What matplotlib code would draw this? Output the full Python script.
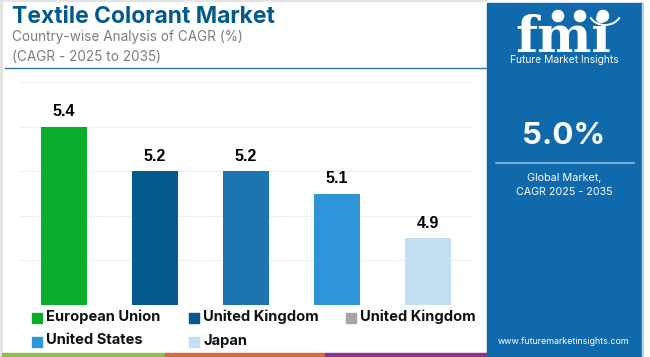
import matplotlib
matplotlib.use("Agg")
import matplotlib.pyplot as plt
from matplotlib.patches import Rectangle, Circle, Arc

W, H = 650, 357

# данные
countries = ["European Union", "United Kingdom", "United Kingdom", "United States", "Japan"]
cagr = [5.4, 5.2, 5.2, 5.1, 4.9]
bar_colors = ["#0bab2e", "#045a8f", "#1b75ae", "#3095d8", "#c2e0f2"]
legend_names = ["European Union", "United Kingdom", "United Kingdom", "United States", "Japan"]
legend_colors = ["#0bab2e", "#045a8f", "#a6a6a6", "#3095d8", "#c2e0f2"]
y_ticks = [4.6, 4.8, 5.0, 5.2, 5.4, 5.6]

plt.rcParams["font.family"] = ["Inter", "Open Sans", "DejaVu Sans"]

fig = plt.figure(figsize=(W / 100, H / 100), dpi=100, facecolor="white")

# фон и декор в координатах пикселей
bg = fig.add_axes([0, 0, 1, 1])
bg.set_xlim(0, W)
bg.set_ylim(H, 0)
bg.axis("off")

bg.add_patch(Rectangle((0, 0), 2, H, color="#e4e4e4"))
bg.add_patch(Rectangle((0, 0), 487, 1, color="#e4e4e4"))
bg.plot([5, 487], [68, 68], color="#2f78a8", lw=1.0)

# нижняя полоса
bg.add_patch(Rectangle((2, 353), 163, 4, color="#8fbf4f"))
bg.add_patch(Rectangle((165, 353), 160, 4, color="#e0683a"))
bg.add_patch(Rectangle((325, 353), 162, 4, color="#8e3191"))

# синяя панель
bg.add_patch(Rectangle((487, 3), 155, 354, color="#0f69ab"))
bg.add_patch(Rectangle((642, 3), 1, 354, color="#b9d3e6"))

# логотип
bg.text(563, 38, "fmi", color="white", fontsize=37, fontweight="bold",
        family=["DejaVu Serif"], ha="center", va="center")
for yy in range(19, 53, 4):
    bg.add_patch(Rectangle((505, yy), 118, 1.0, color="#0f69ab"))
for cx in [558, 580, 603]:
    bg.add_patch(Circle((cx, 16), 7, facecolor="white", edgecolor="#0f69ab", lw=1))
bg.add_patch(Arc((605, 12), 32, 26, theta1=20, theta2=160, color="white", lw=1.4))
bg.text(564, 60, "Future Market Insights", color="white", fontsize=7.4, ha="center", va="center")

# значение справа
bg.text(564, 136, "5.0%", color="white", fontsize=22.5, fontweight="bold", ha="center", va="center")
bg.plot([496, 634], [163, 163], color="#8dbfe0", lw=1.2)
bg.text(564, 178, "Global Market,", color="white", fontsize=7.8, ha="center", va="center")
bg.text(564, 192, "CAGR 2025 - 2035", color="white", fontsize=7.7, ha="center", va="center")
bg.text(564, 341, "www.futuremarketinsights.com", color="white", fontsize=6.4, ha="center", va="center")

# заголовок
bg.text(12, 17, "Textile Colorant Market", color="#045a8f", fontsize=16.5, fontweight="bold",
        ha="left", va="center")
bg.text(12, 37, "Country-wise Analysis of CAGR (%)", color="#7d7d7d", fontsize=9.8, ha="left", va="center")
bg.text(12, 57, "(CAGR - 2025 to 2035)", color="#7d7d7d", fontsize=9.8, ha="left", va="center")

# график: ось от 18.5 до 473.5 пикс, 4.6 на y=305, 5.6 на y=82
ax = fig.add_axes([18.5 / W, 1 - 305 / H, 455 / W, 223 / H])
ax.patch.set_alpha(0)
positions = list(range(len(cagr)))
ax.bar(positions, cagr, width=0.5, color=bar_colors, zorder=3)
ax.set_xlim(-0.5, 4.5)
ax.set_ylim(4.6, 5.6)
ax.set_yticks(y_ticks)
ax.grid(axis="y", color="#efefef", lw=0.8, zorder=0)
ax.tick_params(left=False, bottom=False, labelleft=False, labelbottom=False)
for side in ax.spines.values():
    side.set_visible(False)
for pos, val in zip(positions, cagr):
    ax.text(pos, val + 0.033, f"{val:.1f}", ha="center", va="bottom", fontsize=11.5,
            fontweight="bold", color="black", family=["Liberation Sans", "DejaVu Sans"])

# легенда
leg_x = [32, 189, 346, 32, 189]
leg_y = [317, 317, 317, 341, 341]
for name, col, lx, ly in zip(legend_names, legend_colors, leg_x, leg_y):
    bg.add_patch(Rectangle((lx, ly - 4.5), 10, 10, color=col))
    bg.text(lx + 14, ly - 0.5, name, color="#111111", fontsize=10.6, fontweight="bold",
            ha="left", va="center")

fig.savefig("out.png", dpi=100)
